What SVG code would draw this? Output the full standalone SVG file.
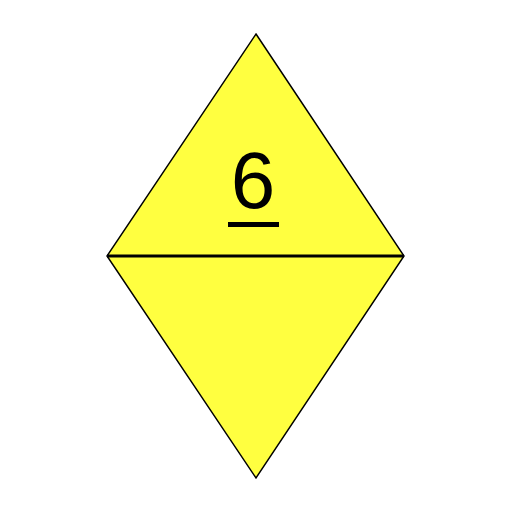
<svg xmlns="http://www.w3.org/2000/svg" width="512" height="512" viewBox="0 0 512 512">
<style>
.shape{fill:#FFFF40;stroke:#000;stroke-width:1.5}
.lbl{font-family:"Liberation Sans",Arial,sans-serif;font-size:80px;fill:#000}
</style>
<rect width="512" height="512" fill="#fff"/>
<g id="node1">
<polygon class="shape" points="256,34 404,256 256,478 107,256"/>
<line x1="107" y1="256" x2="404" y2="256" stroke="#000" stroke-width="3"/>
<text class="lbl" x="253" y="208" text-anchor="middle">6</text>
<rect x="228" y="222" width="51" height="5" fill="#000"/>
</g>
<g id="connectors"/>
</svg>
